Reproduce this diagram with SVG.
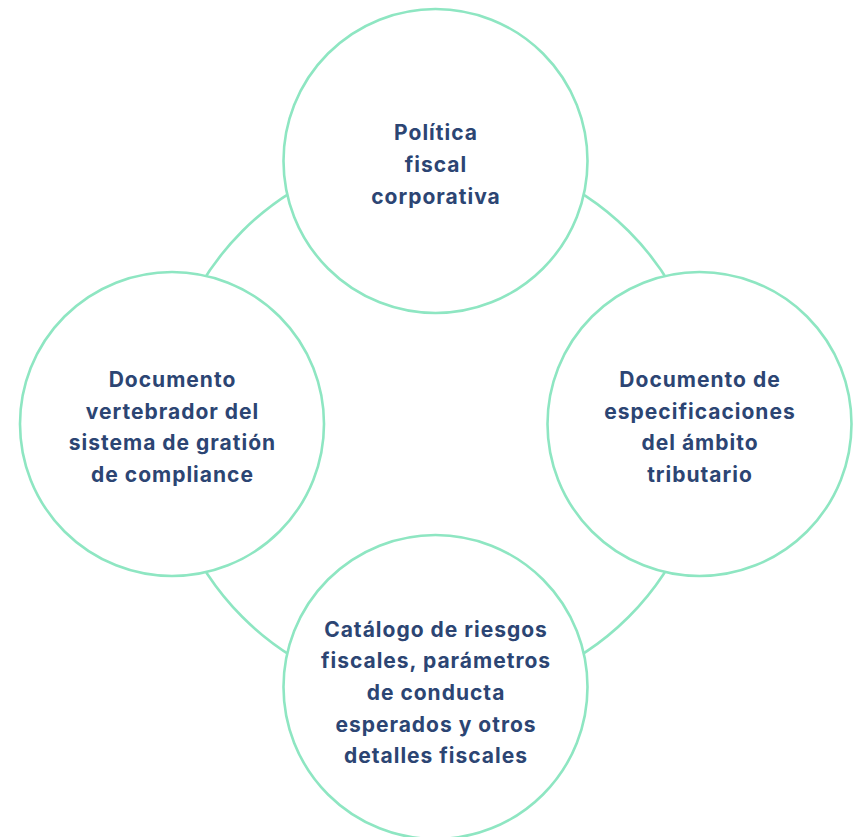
<svg xmlns="http://www.w3.org/2000/svg" width="858" height="837" viewBox="0 0 858 837">
<style>
.ring{fill:none;stroke:#8ee6c2;stroke-width:2.6}
.node{fill:#ffffff;stroke:#8ee6c2;stroke-width:2.6}
.lbl{font-family:Inter,"Noto Sans","DejaVu Sans",sans-serif;font-weight:700;font-size:21px;letter-spacing:1px;fill:#2c4573;text-anchor:middle}
</style>
<rect width="858" height="837" fill="#ffffff"/>
<g id="connectors">
<circle class="ring" cx="435.5" cy="424" r="273"/>
</g>
<g id="node-top">
<circle class="node" cx="435.5" cy="161" r="152"/>
<text class="lbl" x="436" y="140">Política</text>
<text class="lbl" x="436" y="172">fiscal</text>
<text class="lbl" x="436" y="204">corporativa</text>
</g>
<g id="node-left">
<circle class="node" cx="172" cy="424" r="152"/>
<text class="lbl" x="172.5" y="387">Documento</text>
<text class="lbl" x="172.5" y="419">vertebrador del</text>
<text class="lbl" x="172.5" y="450">sistema de gratión</text>
<text class="lbl" x="172.5" y="482">de compliance</text>
</g>
<g id="node-right">
<circle class="node" cx="699.5" cy="424" r="152"/>
<text class="lbl" x="700" y="387">Documento de</text>
<text class="lbl" x="700" y="419">especificaciones</text>
<text class="lbl" x="700" y="450">del ámbito</text>
<text class="lbl" x="700" y="482">tributario</text>
</g>
<g id="node-bottom">
<circle class="node" cx="435.5" cy="687" r="152"/>
<text class="lbl" x="436" y="637">Catálogo de riesgos</text>
<text class="lbl" x="436" y="668">fiscales, parámetros</text>
<text class="lbl" x="436" y="700">de conducta</text>
<text class="lbl" x="436" y="732">esperados y otros</text>
<text class="lbl" x="436" y="763">detalles fiscales</text>
</g>
</svg>
